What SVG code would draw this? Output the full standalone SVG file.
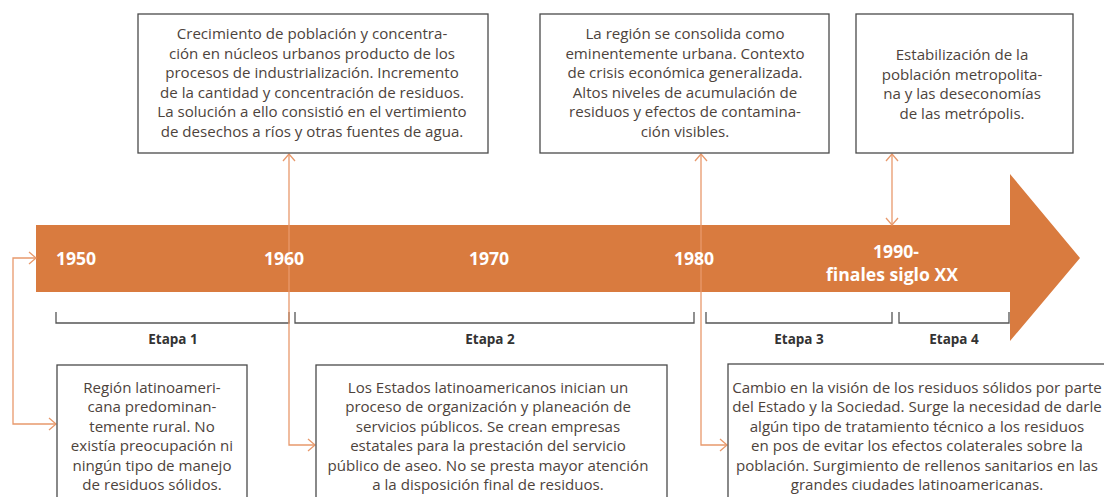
<svg xmlns="http://www.w3.org/2000/svg" width="1104" height="497" viewBox="0 0 1104 497">
<style>
.box{fill:#fff;stroke:#4a4a4a;stroke-width:1.3}
.body{font-family:"Open Sans",sans-serif;font-size:15.1px;fill:#4d433c;text-anchor:middle}
.year{font-family:"Open Sans",sans-serif;font-size:17.6px;font-weight:bold;fill:#fff;text-anchor:middle}
.etapa{font-family:"Open Sans",sans-serif;font-size:13.5px;font-weight:bold;fill:#333;text-anchor:middle}
.br{fill:none;stroke:#555;stroke-width:1.3}
.con{fill:none;stroke:#e8996c;stroke-width:1.3}
</style>
<defs>
<marker id="ah" viewBox="-9 -8 10 16" refX="0" refY="0" markerWidth="10" markerHeight="16" markerUnits="userSpaceOnUse" orient="auto-start-reverse">
<path d="M-7,-6 L0,0 L-7,6" fill="none" stroke="#e8996c" stroke-width="1.3"/>
</marker>
</defs>
<g id="timeline-arrow">
<polygon points="36,225 1010,225 1010,174 1080,258 1010,341 1010,292 36,292" fill="#d97b3f"/>
</g>
<g id="etapas">
<path class="br" d="M56,312 V323 H289 V312"/>
<path class="br" d="M295,312 V323 H694 V312"/>
<path class="br" d="M706,312 V323 H892 V312"/>
<path class="br" d="M899,312 V323 H1009 V312"/>
<text class="etapa" x="173" y="344">Etapa 1</text>
<text class="etapa" x="490" y="344">Etapa 2</text>
<text class="etapa" x="799" y="344">Etapa 3</text>
<text class="etapa" x="954" y="344">Etapa 4</text>
</g>
<g id="connectors">
<path class="con" d="M36,258 H13 V424 H56" marker-start="url(#ah)" marker-end="url(#ah)"/>
<path class="con" d="M289,154 V445 H315" marker-start="url(#ah)" marker-end="url(#ah)"/>
<path class="con" d="M701,154 V445 H727" marker-start="url(#ah)" marker-end="url(#ah)"/>
<path class="con" d="M892,154 V225" marker-start="url(#ah)" marker-end="url(#ah)"/>
</g>
<g id="years">
<text class="year" x="76" y="265">1950</text>
<text class="year" x="284" y="265">1960</text>
<text class="year" x="489" y="265">1970</text>
<text class="year" x="694" y="265">1980</text>
<text class="year" x="896" y="258">1990-</text>
<text class="year" x="892" y="281">finales siglo XX</text>
</g>
<g id="box-1960">
<rect class="box" x="138" y="14" width="350" height="139"/>
<text class="body"><tspan x="312" y="39">Crecimiento de población y concentra-</tspan><tspan x="312" y="59">ción en núcleos urbanos producto de los</tspan><tspan x="312" y="78">procesos de industrialización. Incremento</tspan><tspan x="312" y="98">de la cantidad y concentración de residuos.</tspan><tspan x="312" y="117">La solución a ello consistió en el vertimiento</tspan><tspan x="312" y="137">de desechos a ríos y otras fuentes de agua.</tspan></text>
</g>
<g id="box-1980">
<rect class="box" x="540" y="14" width="289" height="139"/>
<text class="body"><tspan x="685" y="39">La región se consolida como</tspan><tspan x="685" y="59">eminentemente urbana. Contexto</tspan><tspan x="685" y="78">de crisis económica generalizada.</tspan><tspan x="685" y="98">Altos niveles de acumulación de</tspan><tspan x="685" y="117">residuos y efectos de contamina-</tspan><tspan x="685" y="137">ción visibles.</tspan></text>
</g>
<g id="box-1990">
<rect class="box" x="856" y="14" width="217" height="139"/>
<text class="body"><tspan x="962" y="60">Estabilización de la</tspan><tspan x="962" y="80">población metropolita-</tspan><tspan x="962" y="99">na y las deseconomías</tspan><tspan x="962" y="119">de las metrópolis.</tspan></text>
</g>
<g id="box-1950">
<rect class="box" x="57" y="365" width="190" height="140"/>
<text class="body"><tspan x="152" y="393">Región latinoameri-</tspan><tspan x="152" y="412">cana predominan-</tspan><tspan x="152" y="432">temente rural. No</tspan><tspan x="152" y="451">existía preocupación ni</tspan><tspan x="152" y="471">ningún tipo de manejo</tspan><tspan x="152" y="490">de residuos sólidos.</tspan></text>
</g>
<g id="box-etapa2">
<rect class="box" x="316" y="365" width="351" height="140"/>
<text class="body"><tspan x="488" y="393">Los Estados latinoamericanos inician un</tspan><tspan x="488" y="412">proceso de organización y planeación de</tspan><tspan x="488" y="432">servicios públicos. Se crean empresas</tspan><tspan x="488" y="451">estatales para la prestación del servicio</tspan><tspan x="488" y="471">público de aseo. No se presta mayor atención</tspan><tspan x="488" y="490">a la disposición final de residuos.</tspan></text>
</g>
<g id="box-etapa3">
<rect class="box" x="728" y="364" width="380" height="140"/>
<text class="body"><tspan x="917" y="393">Cambio en la visión de los residuos sólidos por parte</tspan><tspan x="917" y="412">del Estado y la Sociedad. Surge la necesidad de darle</tspan><tspan x="917" y="432">algún tipo de tratamiento técnico a los residuos</tspan><tspan x="917" y="451">en pos de evitar los efectos colaterales sobre la</tspan><tspan x="917" y="471">población. Surgimiento de rellenos sanitarios en las</tspan><tspan x="917" y="490">grandes ciudades latinoamericanas.</tspan></text>
</g>
</svg>
